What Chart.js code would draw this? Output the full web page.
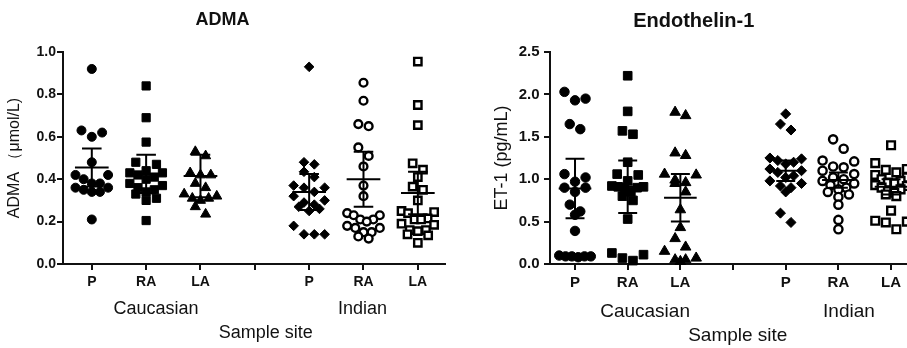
<!DOCTYPE html>
<html>
<head>
<meta charset="utf-8">
<script src="https://cdn.jsdelivr.net/npm/chart.js@4.4.1/dist/chart.umd.min.js"></script>
<style>
  html, body { margin: 0; padding: 0; background: #fff; overflow: hidden; width: 907px; height: 348px; }
  #left { position: absolute; left: 0; top: 0; }
  #right { position: absolute; left: 470px; top: 0; }
</style>
</head>
<body>
<canvas id="left" width="453" height="348"></canvas>
<canvas id="right" width="460" height="348"></canvas>
<script>
'use strict';

// Categories - slot 3 is the empty gap between the two populations
let siteNames = ['P', 'RA', 'LA', '', 'P', 'RA', 'LA'];
let groupNames = ['Caucasian', 'Indian'];
let axisTitle = 'Sample site';
let groupSlots = [0, 1, 2, 4, 5, 6];

// ADMA (umol/L), order: Caucasian P, RA, LA, Indian P, RA, LA
let admaCaucP = [0.92, 0.63, 0.62, 0.60, 0.48, 0.42, 0.42, 0.40, 0.38, 0.38, 0.36, 0.36, 0.35, 0.34, 0.34, 0.21];
let admaCaucRA = [0.84, 0.69, 0.575, 0.48, 0.47, 0.44, 0.43, 0.43, 0.42, 0.41, 0.40, 0.38, 0.37, 0.36, 0.35, 0.34, 0.33, 0.31, 0.30, 0.205];
let admaCaucLA = [0.53, 0.51, 0.43, 0.42, 0.42, 0.38, 0.36, 0.33, 0.32, 0.31, 0.31, 0.30, 0.27, 0.235];
let admaIndP = [0.93, 0.48, 0.47, 0.435, 0.41, 0.37, 0.36, 0.36, 0.34, 0.32, 0.30, 0.29, 0.28, 0.27, 0.26, 0.25, 0.18, 0.14, 0.14, 0.14];
let admaIndRA = [0.855, 0.77, 0.66, 0.65, 0.55, 0.51, 0.46, 0.37, 0.32, 0.24, 0.23, 0.23, 0.21, 0.21, 0.20, 0.18, 0.17, 0.17, 0.15, 0.15, 0.13, 0.12];
let admaIndLA = [0.955, 0.75, 0.655, 0.475, 0.445, 0.41, 0.365, 0.35, 0.30, 0.25, 0.245, 0.24, 0.215, 0.21, 0.21, 0.19, 0.185, 0.16, 0.16, 0.155, 0.14, 0.135, 0.10];
let admaMeans = [0.455, 0.425, 0.415, 0.34, 0.40, 0.335];
let admaErrors = [0.09, 0.09, 0.10, 0.085, 0.13, 0.10];
let admaTicks = [0, 0.2, 0.4, 0.6, 0.8, 1.0];

// Endothelin-1 (pg/mL)
let et1CaucP = [2.03, 1.95, 1.93, 1.65, 1.59, 1.06, 1.02, 0.97, 0.90, 0.90, 0.85, 0.70, 0.62, 0.58, 0.39, 0.10, 0.09, 0.09, 0.09, 0.09, 0.08];
let et1CaucRA = [2.22, 1.80, 1.57, 1.53, 1.20, 1.06, 1.05, 0.98, 0.92, 0.91, 0.91, 0.90, 0.90, 0.85, 0.80, 0.75, 0.53, 0.13, 0.11, 0.07, 0.04];
let et1CaucLA = [1.79, 1.75, 1.31, 1.28, 1.06, 1.05, 0.99, 0.96, 0.95, 0.85, 0.64, 0.43, 0.30, 0.20, 0.15, 0.07, 0.05, 0.05, 0.03];
let et1IndP = [1.77, 1.65, 1.58, 1.25, 1.24, 1.22, 1.20, 1.18, 1.12, 1.10, 1.08, 1.04, 1.02, 0.98, 0.95, 0.92, 0.90, 0.85, 0.60, 0.49];
let et1IndRA = [1.47, 1.36, 1.22, 1.21, 1.15, 1.14, 1.10, 1.06, 1.02, 1.00, 0.98, 0.95, 0.93, 0.90, 0.88, 0.85, 0.82, 0.79, 0.70, 0.52, 0.41];
let et1IndLA = [1.40, 1.19, 1.12, 1.11, 1.08, 1.05, 1.02, 1.00, 0.98, 0.96, 0.95, 0.93, 0.92, 0.90, 0.88, 0.86, 0.84, 0.82, 0.80, 0.63, 0.51, 0.50, 0.49, 0.41];
let et1Means = [0.89, 0.91, 0.78, 1.10, 0.99, 0.91];
let et1Errors = [0.35, 0.31, 0.28, 0.12, 0.09, 0.09];
let et1Ticks = [0, 0.5, 1.0, 1.5, 2.0, 2.5];

// marker look per group (filled circle, square, triangle, diamond, open circle, open square)
let markerStyles = ['circle', 'rect', 'triangle', 'rectRot', 'circle', 'rect'];
let markerSizes = [4.5, 5.8, 5.8, 4.8, 3.9, 5.2];
let markerFilled = [true, true, true, true, false, false];

Chart.defaults.font.family = "'Liberation Sans', Arial, sans-serif";
Chart.defaults.color = '#111';

// spread points of about equal value side by side, lowest in the middle
function swarm(values, slot, rowHeight, step, maxWidth) {
  let sorted = values.slice().sort((a, b) => b - a);
  let rows = [];
  sorted.forEach(v => {
    let row = rows[rows.length - 1];
    if (row && row[0] - v < rowHeight) {
      row.push(v);
    } else {
      rows.push([v]);
    }
  });
  let points = [];
  rows.forEach(row => {
    let n = row.length;
    let dx = n > 1 ? Math.min(step, maxWidth / (n - 1)) : 0;
    let order = [];
    for (let i = 0; i < n; i++) order.push(i - (n - 1) / 2);
    order.sort((a, b) => Math.abs(b) - Math.abs(a) || a - b);
    row.forEach((v, i) => points.push({x: slot + order[i] * dx, y: v}));
  });
  return points;
}

// mean line + error bar with caps, gaps (null) split the segments
function meanBars(means, errors, halfMean, halfCap) {
  let pts = [];
  means.forEach((m, i) => {
    let c = groupSlots[i];
    let lo = m - errors[i];
    let hi = m + errors[i];
    pts.push({x: c - halfMean, y: m}, {x: c + halfMean, y: m}, {x: c, y: null});
    pts.push({x: c, y: lo}, {x: c, y: hi}, {x: c, y: null});
    pts.push({x: c - halfCap, y: hi}, {x: c + halfCap, y: hi}, {x: c, y: null});
    pts.push({x: c - halfCap, y: lo}, {x: c + halfCap, y: lo}, {x: c, y: null});
  });
  return pts;
}

function makePanel(canvasId, p) {
  let datasets = [{
    data: meanBars(p.means, p.errors, 0.31, 0.18),
    showLine: true,
    borderColor: '#000',
    borderWidth: 2,
    pointRadius: 0,
    clip: false
  }];
  p.groups.forEach((vals, i) => {
    datasets.push({
      data: swarm(vals, groupSlots[i], p.rowHeight, p.step, 0.6),
      pointStyle: markerStyles[i],
      pointRadius: markerSizes[i] * p.scale,
      backgroundColor: markerFilled[i] ? '#000' : '#fff',
      borderColor: '#000',
      borderWidth: markerFilled[i] ? 1 : 2.4,
      clip: false
    });
  });

  let bottomLabels = [groupNames[0], ['', axisTitle], groupNames[1]];
  let bottomPos = [p.groupPos[0], p.titlePos, p.groupPos[1]];

  return new Chart(document.getElementById(canvasId), {
    type: 'scatter',
    data: {datasets: datasets},
    options: {
      responsive: false,
      animation: false,
      events: [],
      layout: {padding: {left: 0, right: p.padRight, top: 0, bottom: 0}},
      plugins: {
        legend: {display: false},
        tooltip: {enabled: false},
        title: {
          display: true,
          text: p.title,
          color: '#111',
          font: {size: p.titleSize, weight: 'bold'},
          padding: {top: p.titleTop, bottom: 52 - p.titleTop - p.titleSize * 1.2}
        }
      },
      scales: {
        x: {
          type: 'linear',
          position: 'bottom',
          min: p.xMin,
          max: 6.5,
          afterBuildTicks: s => { s.ticks = siteNames.map((n, i) => ({value: i})); },
          afterFit: s => { s.height = 30; },
          ticks: {
            callback: v => siteNames[v],
            autoSkip: false,
            maxRotation: 0,
            padding: p.xPad,
            color: '#111',
            font: {size: p.tickSize, weight: 'bold'}
          },
          grid: {drawOnChartArea: false, drawTicks: true, tickLength: 6, color: '#111', lineWidth: 2},
          border: {display: true, color: '#111', width: 2}
        },
        groups: {
          type: 'linear',
          position: 'bottom',
          min: p.xMin,
          max: 6.5,
          afterBuildTicks: s => { s.ticks = bottomPos.map(v => ({value: v})); },
          afterFit: s => { s.height = 54; },
          ticks: {
            callback: (v, i) => bottomLabels[i],
            autoSkip: false,
            maxRotation: 0,
            padding: p.groupPad,
            color: '#111',
            font: {size: p.groupSize, lineHeight: p.groupLine}
          },
          grid: {display: false, drawTicks: false},
          border: {display: false}
        },
        y: {
          min: 0,
          max: p.yTicks[p.yTicks.length - 1],
          afterBuildTicks: s => { s.ticks = p.yTicks.map(v => ({value: v})); },
          afterFit: s => { s.width = p.yWidth; },
          ticks: {
            callback: v => v.toFixed(1),
            padding: p.yPad,
            color: '#111',
            font: {size: p.tickSize, weight: 'bold'}
          },
          title: {
            display: true,
            text: p.yTitle,
            color: '#111',
            font: {size: p.yTitleSize},
            padding: {top: p.yTitleLeft - p.yTitleSize * 0.6, bottom: 0}
          },
          grid: {drawOnChartArea: false, drawTicks: true, tickLength: 6, color: '#111', lineWidth: 2},
          border: {display: true, color: '#111', width: 2}
        }
      }
    }
  });
}

makePanel('left', {
  title: 'ADMA',
  titleSize: 18,
  titleTop: 9,
  yTitle: 'ADMA \uFF08\u03BCmol/L)',
  yTitleSize: 16,
  yTitleLeft: 15,
  groups: [admaCaucP, admaCaucRA, admaCaucLA, admaIndP, admaIndRA, admaIndLA],
  means: admaMeans,
  errors: admaErrors,
  yTicks: admaTicks,
  rowHeight: 0.042,
  step: 0.19,
  scale: 1,
  xMin: -0.53,
  padRight: 8,
  yWidth: 63,
  yPad: 1,
  xPad: 4,
  tickSize: 14,
  groupSize: 18,
  groupLine: 1.3,
  groupPad: 3.5,
  groupPos: [1.18, 4.98],
  titlePos: 3.2
});

makePanel('right', {
  title: 'Endothelin-1',
  titleSize: 20,
  titleTop: 9,
  yTitle: 'ET-1 (pg/mL)',
  yTitleSize: 18,
  yTitleLeft: 32,
  groups: [et1CaucP, et1CaucRA, et1CaucLA, et1IndP, et1IndRA, et1IndLA],
  means: et1Means,
  errors: et1Errors,
  yTicks: et1Ticks,
  rowHeight: 0.11,
  step: 0.2,
  scale: 1.05,
  xMin: -0.475,
  padRight: 12.6,
  yWidth: 80,
  yPad: 4.5,
  xPad: 3.5,
  tickSize: 15,
  groupSize: 19,
  groupLine: 1.24,
  groupPad: 6,
  groupPos: [1.33, 5.2],
  titlePos: 3.09
});
</script>
</body>
</html>
